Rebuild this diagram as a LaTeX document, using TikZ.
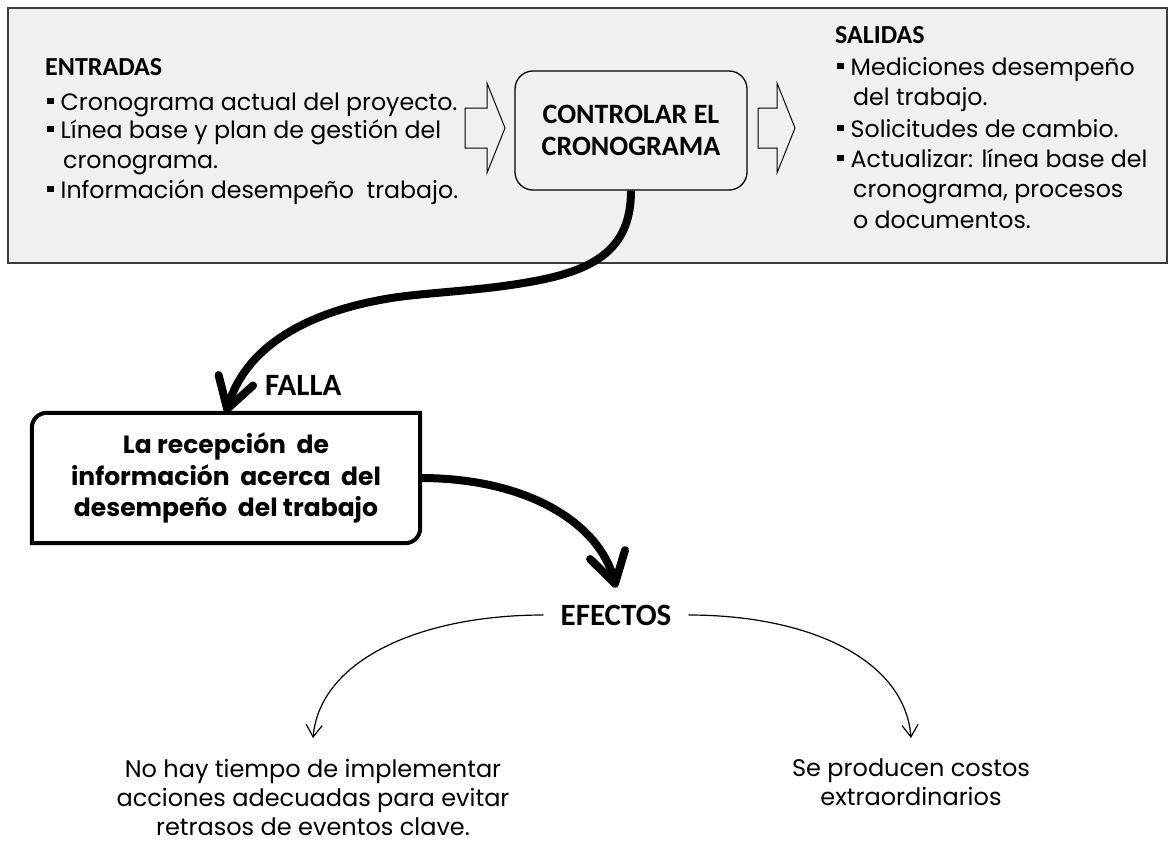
\documentclass[tikz,border=0pt]{standalone}
\usepackage{fontspec}
\setmainfont{Poppins}
\newfontfamily\titlefont{Carlito}
\usetikzlibrary{arrows.meta,calc}
\definecolor{panel}{HTML}{F0F0F0}
\definecolor{frame}{HTML}{3C3C3C}
\newcommand\bul{\rule[6pt]{6.5pt}{6.5pt}\hspace{7pt}}
\begin{document}
\begin{tikzpicture}[x=1pt,y=-1pt,
  body/.style={font=\fontsize{23.7}{29.5}\selectfont, inner sep=0pt, anchor=base west},
  ttl/.style={font=\titlefont\bfseries\fontsize{26}{32}\selectfont, inner sep=0pt},
  big/.style={font=\titlefont\bfseries\fontsize{31}{34}\selectfont, inner sep=0pt},
  hollow/.style={draw=black, fill=panel, line width=1pt, line join=miter},
  thickarrow/.style={line width=8pt, -{Straight Barb[length=30pt,width=36pt,round]}},
  thinarrow/.style={line width=1.2pt, -{Straight Barb[length=12pt,width=16pt]}},
  effect/.style={font=\fontsize{24}{29}\selectfont, align=center, inner sep=0pt, anchor=north}]
\useasboundingbox (0,0) rectangle (1170,844);
\fill[white] (0,0) rectangle (1170,844);

% panel
\draw[draw=frame, fill=panel, line width=1.5pt] (8,8) rectangle (1167,263);

% ENTRADAS
\node[ttl, anchor=base west] (entT) at (45,75) {ENTRADAS};
\node[body] (e1) at (47,110) {\bul Cronograma actual del proyecto.};
\node[body] (e2) at (47,138) {\bul Línea base y plan de gestión del};
\node[body] (e3) at (63,168) {cronograma.};
\node[body] (e4) at (47,198) {\bul Información desempeño\ \ trabajo.};

% hollow arrows
\draw[hollow] (465,108) -- (487,108) -- (487,83) -- (505,128) -- (487,173) -- (487,148) -- (465,148) -- cycle;
\draw[hollow] (758,108) -- (777,108) -- (777,83) -- (795,128) -- (777,173) -- (777,148) -- (758,148) -- cycle;

% central box
\node[draw=black, fill=panel, line width=1.3pt, rounded corners=18pt,
      minimum width=232pt, minimum height=119pt, inner sep=0pt,
      align=center, font=\titlefont\bfseries\fontsize{28}{32}\selectfont]
      (ctrl) at (631,130.5) {CONTROLAR EL\\CRONOGRAMA};

% SALIDAS
\node[ttl, anchor=base west] (salT) at (835,43) {SALIDAS};
\node[body] (s1) at (837,75) {\bul Mediciones desempeño};
\node[body] (s2) at (853,105) {del trabajo.};
\node[body] (s3) at (837,137) {\bul Solicitudes de cambio.};
\node[body] (s4) at (837,167) {\bul Actualizar: línea base del};
\node[body] (s5) at (853,197) {cronograma, procesos};
\node[body] (s6) at (853,228) {o documentos.};

% failure box
\node[minimum width=388pt, minimum height=130pt, inner sep=0pt, align=center,
      font=\bfseries\fontsize{25}{31.5}\selectfont]
      (fail) at (226,478) {La recepción\ \ de\\información\ \ acerca\ \ del\\desempeño\ \ del trabajo};
\draw[line width=4pt] (fail.south west) [rounded corners=15pt] -- (fail.north west)
      [sharp corners] -- (fail.north east) [rounded corners=15pt] -- (fail.south east)
      [sharp corners] -- cycle;
\node[big, anchor=base west] (falla) at (265,395) {FALLA};

% EFECTOS
\node[big, inner xsep=17pt, inner ysep=17pt] (efx) at (616,615) {EFECTOS};

% effects texts
\node[effect] (n1) at (313,759) {No hay tiempo de implementar\\acciones adecuadas para evitar\\retrasos de eventos clave.};
\node[effect] (n2) at (911,759) {Se producen costos\\extraordinarios};

% connectors
\draw[thickarrow] (ctrl.south) .. controls (631,245) and (600,268) .. (540,280)
      .. controls (480,292) and (420,292) .. (380,300)
      .. controls (300,315) and (245,350) .. (fail.north);
\draw[thickarrow] (fail.east) .. controls (530,478) and (600,525) .. (efx.north);
\draw[thinarrow] (efx.west) .. controls (420,615) and (320,660) .. ([yshift=21pt]n1.north);
\draw[thinarrow] (efx.east) .. controls (810,615) and (905,660) .. ([yshift=21pt]n2.north);
\end{tikzpicture}
\end{document}
